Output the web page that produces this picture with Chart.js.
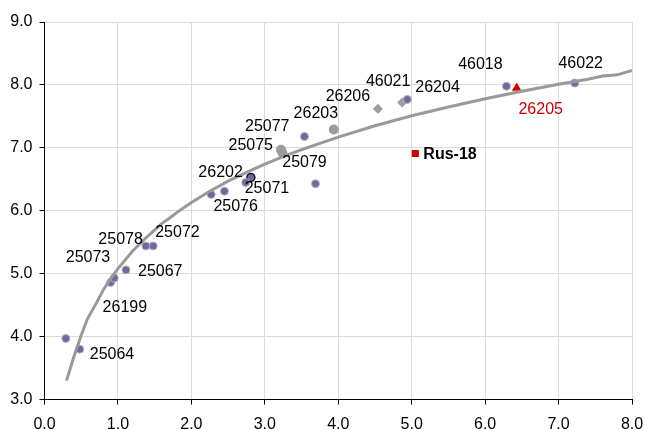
<!DOCTYPE html>
<html>
<head>
<meta charset="utf-8">
<script src="https://cdn.jsdelivr.net/npm/chart.js@4.4.1/dist/chart.umd.min.js"></script>
<style>
  html, body { margin: 0; padding: 0; background: #fff; }
  #wrap { width: 645px; height: 430px; }
</style>
</head>
<body>
<div id="wrap"><canvas id="yieldChart"></canvas></div>
<script>
// Bonos (duración, rendimiento)
const blueNames = ['', '25064', '26199', '25073', '25067', '25078', '25072', '', '25076', '25071', '25077', '25079', '26204', '46018', '46022'];
const blueX = [0.29, 0.48, 0.90, 0.95, 1.11, 1.38, 1.48, 2.27, 2.45, 2.74, 3.54, 3.69, 4.94, 6.29, 7.22];
const blueY = [3.97, 3.80, 4.86, 4.93, 5.06, 5.44, 5.44, 6.26, 6.31, 6.45, 7.18, 6.43, 7.77, 7.98, 8.03];

const outlinedNames = ['26202'];
const outlinedX = [2.81];
const outlinedY = [6.53];

const grayNames = ['25075', '', '26203'];
const grayX = [3.22, 3.24, 3.94];
const grayY = [6.97, 6.92, 7.29];

const diamondNames = ['26206', '46021'];
const diamondX = [4.54, 4.87];
const diamondY = [7.62, 7.72];

const squareNames = ['Rus-18'];
const squareX = [5.05];
const squareY = [6.91];

const triangleNames = ['26205'];
const triangleX = [6.43];
const triangleY = [7.95];

// Curva de ajuste
const curveX = [0.3, 0.4, 0.5, 0.58, 0.7, 0.8, 0.9, 1.0, 1.2, 1.4, 1.6, 1.7, 1.8, 2.0, 2.25, 2.5, 2.75, 3.0, 3.25, 3.5, 3.75, 4.0, 4.5, 5.0, 5.5, 6.0, 6.5, 7.0, 7.4, 7.6, 7.8, 8.0];
const curveY = [3.30, 3.68, 4.02, 4.27, 4.52, 4.74, 4.92, 5.08, 5.36, 5.59, 5.80, 5.88, 5.97, 6.13, 6.31, 6.47, 6.61, 6.74, 6.86, 6.97, 7.07, 7.17, 7.35, 7.51, 7.65, 7.78, 7.90, 8.01, 8.09, 8.14, 8.16, 8.23];

const xTicks = [0, 1, 2, 3, 4, 5, 6, 7, 8];
const yTicks = [3, 4, 5, 6, 7, 8, 9];

const FONT = '"Liberation Sans", Arial, sans-serif';

function toPoints(xs, ys, names) {
    return xs.map((x, i) => ({ x: x, y: ys[i], name: names ? names[i] : '' }));
}

// posición de etiquetas: [dx, dy, align]
const labelPos = {
    '25064': [10, 5, 'left'],
    '26199': [-8, 25, 'left'],
    '25073': [-4, -20, 'right'],
    '25067': [12, 2, 'left'],
    '25078': [-3, -6, 'right'],
    '25072': [2, -13, 'left'],
    '26202': [-8, -5, 'right'],
    '25071': [-1, 6, 'left'],
    '25076': [-11, 15, 'left'],
    '25075': [-8, -4, 'right'],
    '25077': [-15, -10, 'right'],
    '26203': [-18, -16, 'center'],
    '25079': [-11, -21, 'center'],
    '26206': [-30, -12, 'center'],
    '46021': [-14, -21, 'center'],
    '26204': [8, -12, 'left'],
    'Rus-18': [8, 1, 'left'],
    '46018': [-26, -22, 'center'],
    '26205': [24, 22, 'center'],
    '46022': [6, -19, 'center']
};

const pointLabels = {
    id: 'pointLabels',
    afterDatasetsDraw(chart) {
        const ctx = chart.ctx;
        ctx.save();
        ctx.textBaseline = 'middle';
        chart.data.datasets.forEach((ds, di) => {
            if (ds.type === 'line') return;
            const meta = chart.getDatasetMeta(di);
            meta.data.forEach((el, i) => {
                const name = ds.data[i].name;
                if (!name || !labelPos[name]) return;
                const p = labelPos[name];
                ctx.font = (name === 'Rus-18' ? 'bold ' : '') + '16px ' + FONT;
                ctx.fillStyle = name === '26205' ? '#d00000' : '#000';
                ctx.textAlign = p[2];
                ctx.fillText(name, el.x + p[0], el.y + p[1]);
            });
        });
        ctx.restore();
    }
};

const ctx = document.getElementById('yieldChart').getContext('2d');

new Chart(ctx, {
    type: 'scatter',
    data: {
        datasets: [
            {
                type: 'line',
                data: toPoints(curveX, curveY),
                borderColor: '#999999',
                borderWidth: 3,
                pointRadius: 0,
                fill: false,
                tension: 0,
                order: 0
            },
            {
                data: toPoints(blueX, blueY, blueNames),
                pointStyle: 'circle',
                pointRadius: 4,
                backgroundColor: '#6b6b9e',
                borderColor: '#b4b4c4',
                borderWidth: 1,
                order: 1
            },
            {
                data: toPoints(outlinedX, outlinedY, outlinedNames),
                pointStyle: 'circle',
                pointRadius: 4,
                backgroundColor: '#6b6b9e',
                borderColor: '#15152e',
                borderWidth: 1.5,
                order: 1
            },
            {
                data: toPoints(grayX, grayY, grayNames),
                pointStyle: 'circle',
                pointRadius: 5,
                backgroundColor: '#9c9c9c',
                borderColor: '#9c9c9c',
                borderWidth: 0,
                order: 1
            },
            {
                data: toPoints(diamondX, diamondY, diamondNames),
                pointStyle: 'rectRot',
                pointRadius: 5,
                backgroundColor: '#9c9c9c',
                borderColor: '#9c9c9c',
                borderWidth: 0,
                order: 1
            },
            {
                data: toPoints(squareX, squareY, squareNames),
                pointStyle: 'rect',
                pointRadius: 5,
                backgroundColor: '#d00000',
                borderColor: '#d00000',
                borderWidth: 0,
                order: 1
            },
            {
                data: toPoints(triangleX, triangleY, triangleNames),
                pointStyle: 'triangle',
                pointRadius: 5.5,
                backgroundColor: '#d00000',
                borderColor: '#d00000',
                borderWidth: 0,
                order: 1
            }
        ]
    },
    options: {
        responsive: true,
        maintainAspectRatio: false,
        animation: false,
        layout: { padding: { top: 22, right: 13, left: 0, bottom: 0 } },
        plugins: {
            legend: { display: false },
            tooltip: { enabled: false }
        },
        scales: {
            x: {
                type: 'linear',
                min: 0,
                max: 8,
                afterBuildTicks: (scale) => { scale.ticks = xTicks.map(v => ({ value: v })); },
                afterFit: (scale) => {
                    scale.height = 30.5;
                    scale.paddingLeft = 0;
                    scale.paddingRight = 0;
                },
                grid: { color: '#dadada', tickColor: '#000', tickLength: 5 },
                border: { color: '#000', width: 1 },
                ticks: {
                    color: '#000',
                    padding: 10,
                    maxRotation: 0,
                    font: { family: FONT, size: 16 },
                    callback: (v) => Number(v).toFixed(1)
                }
            },
            y: {
                type: 'linear',
                min: 3,
                max: 9,
                afterBuildTicks: (scale) => { scale.ticks = yTicks.map(v => ({ value: v })); },
                afterFit: (scale) => {
                    scale.width = 44.5;
                    scale.paddingTop = 0;
                    scale.paddingBottom = 0;
                },
                grid: { color: '#dadada', tickColor: '#000', tickLength: 5 },
                border: { color: '#000', width: 1 },
                ticks: {
                    color: '#000',
                    padding: 7,
                    font: { family: FONT, size: 16 },
                    callback: (v) => Number(v).toFixed(1)
                }
            }
        }
    },
    plugins: [pointLabels]
});
</script>
</body>
</html>
